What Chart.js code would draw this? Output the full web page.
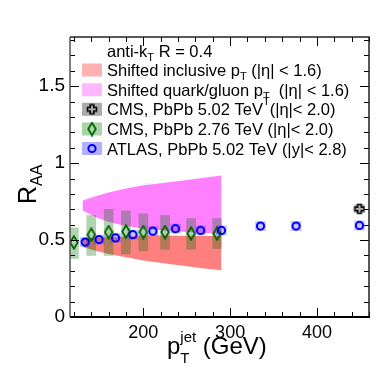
<!DOCTYPE html>
<html>
<head>
<meta charset="utf-8">
<script src="https://cdn.jsdelivr.net/npm/chart.js@4.4.1/dist/chart.umd.min.js"></script>
<style>
  html, body { margin: 0; padding: 0; background: #fff; }
  canvas { display: block; }
</style>
</head>
<body>
<canvas id="raa" width="389" height="372"></canvas>
<script>
// axis labels
const xTicks = [200, 300, 400];
const yTicks = [0, 0.5, 1, 1.5];

// shifted pT bands
const bandPt = [130, 145, 160, 180, 200, 225, 250, 270, 290];
const qgHigh = [0.757, 0.785, 0.810, 0.835, 0.856, 0.873, 0.890, 0.905, 0.919];
const qgLow = [0.693, 0.650, 0.617, 0.592, 0.576, 0.563, 0.552, 0.546, 0.542];
const inclHigh = [0.509, 0.515, 0.518, 0.524, 0.530, 0.530, 0.528, 0.527, 0.526];
const inclLow = [0.455, 0.430, 0.410, 0.388, 0.368, 0.348, 0.330, 0.316, 0.304];

// CMS 2.76 TeV
const cms276Pt = [120, 140, 160, 180, 200, 225, 255, 285];
const cms276Raa = [0.485, 0.535, 0.552, 0.555, 0.552, 0.552, 0.543, 0.542];
const cms276Lo = [0.38, 0.40, 0.40, 0.41, 0.43, 0.44, 0.44, 0.445];
const cms276Hi = [0.58, 0.66, 0.70, 0.69, 0.67, 0.66, 0.64, 0.64];

// ATLAS 5.02 TeV
const atlasPt = [133, 149, 168, 188, 211, 237, 266, 290, 335, 376, 449];
const atlasRaa = [0.487, 0.503, 0.514, 0.535, 0.558, 0.574, 0.563, 0.563, 0.591, 0.591, 0.595];
const atlasSys = [0.03, 0.03, 0.03, 0.03, 0.03, 0.03, 0.03, 0.03, 0.03, 0.03, 0.03];

// CMS 5.02 TeV
const cms502Pt = [449];
const cms502Raa = [0.703];
const cms502Sys = [0.025];

const FF = "'Liberation Sans', Arial, Helvetica, sans-serif";

function diamondImg() {
  const c = document.createElement('canvas');
  c.width = 10; c.height = 15;
  const g = c.getContext('2d');
  g.strokeStyle = '#006400';
  g.lineWidth = 1.8;
  g.beginPath();
  g.moveTo(5, 1.2); g.lineTo(8.8, 7.5); g.lineTo(5, 13.8); g.lineTo(1.2, 7.5);
  g.closePath();
  g.stroke();
  return c;
}
function crossImg() {
  const c = document.createElement('canvas');
  c.width = 12; c.height = 12;
  const g = c.getContext('2d');
  g.strokeStyle = '#000';
  g.lineWidth = 1.6;
  const a = 1.5, b = 4.2, e = 7.8, f = 10.5;
  g.beginPath();
  g.moveTo(b, a); g.lineTo(e, a); g.lineTo(e, b); g.lineTo(f, b); g.lineTo(f, e);
  g.lineTo(e, e); g.lineTo(e, f); g.lineTo(b, f); g.lineTo(b, e); g.lineTo(a, e);
  g.lineTo(a, b); g.lineTo(b, b); g.closePath();
  g.stroke();
  return c;
}
const diamond = diamondImg();
const cross = crossImg();

const pts = (xs, ys) => xs.map((x, i) => ({ x: x, y: ys[i] }));
const bars = (xs, lo, hi) => xs.map((x, i) => ({ x: x, y: [lo[i], hi[i]] }));

function rich(ctx, x, y, parts) {
  let adv = 0;
  for (const p of parts) {
    ctx.font = p.s + 'px ' + FF;
    ctx.fillText(p.t, x, y + (p.dy || 0));
    const w = ctx.measureText(p.t).width;
    if (p.stay) { adv = Math.max(adv, w); continue; }
    x += Math.max(adv, w);
    adv = 0;
  }
  return x;
}

const decor = {
  id: 'decor',
  afterDraw(chart) {
    const ctx = chart.ctx;
    const xs = chart.scales.x, ys = chart.scales.y;
    const L = xs.left, R = xs.right, T = ys.top, B = ys.bottom;
    ctx.save();
    // ticks on all four sides, pointing inwards
    ctx.strokeStyle = '#000';
    ctx.lineWidth = 1;
    ctx.beginPath();
    for (let v = 120; v <= 460; v += 20) {
      const px = Math.round(xs.getPixelForValue(v)) + 0.5;
      const len = v % 100 === 0 ? 9 : 5;
      ctx.moveTo(px, B); ctx.lineTo(px, B - len);
      ctx.moveTo(px, T); ctx.lineTo(px, T + len);
    }
    for (let k = 1; k <= 18; k++) {
      const v = k / 10;
      const py = Math.round(ys.getPixelForValue(v)) + 0.5;
      const len = k % 5 === 0 ? 9 : 5;
      ctx.moveTo(L, py); ctx.lineTo(L + len, py);
      ctx.moveTo(R, py); ctx.lineTo(R - len, py);
    }
    ctx.stroke();
    // frame
    ctx.lineWidth = 1.5;
    ctx.strokeStyle = '#222';
    ctx.beginPath();
    ctx.moveTo(L, T); ctx.lineTo(R, T); ctx.lineTo(R, B);
    ctx.stroke();
    ctx.lineWidth = 2;
    ctx.strokeStyle = '#000';
    ctx.beginPath();
    ctx.moveTo(L, B); ctx.lineTo(R + 1, B);
    ctx.stroke();
    ctx.lineWidth = 1.5;
    ctx.strokeStyle = '#555';
    ctx.beginPath();
    ctx.moveTo(L, T); ctx.lineTo(L, B);
    ctx.stroke();

    // axis titles
    ctx.fillStyle = '#000';
    ctx.textBaseline = 'alphabetic';
    ctx.textAlign = 'left';
    rich(ctx, 167, 354, [
      { t: 'p', s: 24 },
      { t: 'jet', s: 15, dy: -12, stay: true },
      { t: 'T', s: 15, dy: 9 },
      { t: ' (GeV)', s: 24 }
    ]);
    ctx.save();
    ctx.translate(36, 204);
    ctx.rotate(-Math.PI / 2);
    rich(ctx, 0, 0, [{ t: 'R', s: 25 }, { t: 'AA', s: 16, dy: 6 }]);
    ctx.restore();

    // legend
    const lx = 107, fs = 16.5, ss = 11;
    const rows = [56.5, 76, 95.8, 115.3, 135, 154.5];
    rich(ctx, lx, rows[0], [{ t: 'anti-k', s: fs }, { t: 'T', s: ss, dy: 4 }, { t: ' R = 0.4', s: fs }]);
    const boxes = ['#ffb0b0', '#ffb8ff', '#ababab', '#a8d4a8', '#b0b0ff'];
    boxes.forEach((c, i) => {
      ctx.fillStyle = c;
      ctx.fillRect(82, rows[i + 1] - 12.5, 20, 13);
    });
    ctx.drawImage(cross, 92 - 6, rows[3] - 6 - 6);
    ctx.drawImage(diamond, 92 - 5, rows[4] - 6 - 7.5);
    ctx.strokeStyle = '#0000ff';
    ctx.lineWidth = 2;
    ctx.beginPath();
    ctx.arc(92, rows[5] - 6, 3.6, 0, Math.PI * 2);
    ctx.stroke();
    ctx.fillStyle = '#000';
    rich(ctx, lx, rows[1], [{ t: 'Shifted inclusive p', s: fs }, { t: 'T', s: ss, dy: 4 }, { t: ' (|η| < 1.6)', s: fs }]);
    rich(ctx, lx, rows[2], [{ t: 'Shifted quark/gluon p', s: fs }, { t: 'T', s: ss, dy: 4 }, { t: '  (|η| < 1.6)', s: fs }]);
    rich(ctx, lx, rows[3], [{ t: 'CMS, PbPb 5.02 TeV', s: fs }, { t: 'T', s: ss, dy: -10 }, { t: '(|η|< 2.0)', s: fs }]);
    rich(ctx, lx, rows[4], [{ t: 'CMS, PbPb 2.76 TeV (|η|< 2.0)', s: fs }]);
    rich(ctx, lx, rows[5], [{ t: 'ATLAS, PbPb 5.02 TeV (|y|< 2.8)', s: fs }]);
    ctx.restore();
  }
};

new Chart(document.getElementById('raa').getContext('2d'), {
  type: 'scatter',
  data: {
    datasets: [
      {
        type: 'line', data: pts(bandPt, qgHigh), fill: '+1',
        backgroundColor: '#ff80ff', borderWidth: 0, pointRadius: 0, order: 6
      },
      {
        type: 'line', data: pts(bandPt, qgLow), fill: false,
        borderWidth: 0, pointRadius: 0, order: 6
      },
      {
        type: 'line', data: pts(bandPt, inclHigh), fill: '+1',
        backgroundColor: '#ff7f7f', borderWidth: 0, pointRadius: 0, order: 5
      },
      {
        type: 'line', data: pts(bandPt, inclLow), fill: false,
        borderWidth: 0, pointRadius: 0, order: 5
      },
      {
        type: 'bar', data: bars(cms276Pt, cms276Lo, cms276Hi),
        backgroundColor: 'rgba(0,110,0,0.3)', barThickness: 9, grouped: false, order: 4
      },
      {
        type: 'bar',
        data: bars(atlasPt, atlasRaa.map((r, i) => r - atlasSys[i]), atlasRaa.map((r, i) => r + atlasSys[i])),
        backgroundColor: 'rgba(40,40,255,0.28)', barThickness: 10, grouped: false, order: 4
      },
      {
        type: 'bar',
        data: bars(cms502Pt, cms502Raa.map((r, i) => r - cms502Sys[i]), cms502Raa.map((r, i) => r + cms502Sys[i])),
        backgroundColor: 'rgba(0,0,0,0.3)', barThickness: 10, grouped: false, order: 4
      },
      {
        data: pts(cms276Pt, cms276Raa), pointStyle: diamond, order: 2
      },
      {
        data: pts(atlasPt, atlasRaa), pointStyle: 'circle', pointRadius: 3.6,
        borderWidth: 2, borderColor: '#0000ff', backgroundColor: 'rgba(0,0,0,0)', order: 1
      },
      {
        data: pts(cms502Pt, cms502Raa), pointStyle: cross, order: 1
      }
    ]
  },
  options: {
    responsive: false,
    animation: false,
    events: [],
    layout: { padding: { top: 37, right: 20, left: 0, bottom: 0 } },
    plugins: { legend: { display: false }, tooltip: { enabled: false } },
    scales: {
      x: {
        type: 'linear', min: 115.5, max: 460, offset: false,
        grid: { display: false, drawTicks: false }, border: { display: false },
        afterBuildTicks: s => { s.ticks = xTicks.map(v => ({ value: v })); },
        afterFit: s => { s.height = 55; },
        ticks: { color: '#000', font: { size: 18, family: FF }, padding: 5, maxRotation: 0, callback: v => String(v) }
      },
      y: {
        type: 'linear', min: 0, max: 1.82,
        grid: { display: false, drawTicks: false }, border: { display: false },
        afterBuildTicks: s => { s.ticks = yTicks.map(v => ({ value: v })); },
        afterFit: s => { s.width = 70; },
        ticks: { color: '#000', font: { size: 19, family: FF }, padding: 5, callback: v => String(v) }
      }
    }
  },
  plugins: [decor]
});
</script>
</body>
</html>
